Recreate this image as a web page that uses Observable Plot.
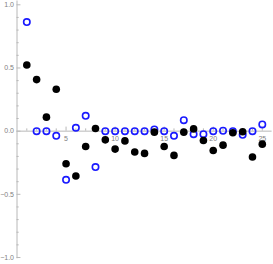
<!DOCTYPE html>
<html>
<head>
<meta charset="utf-8">
<script src="https://cdn.jsdelivr.net/npm/d3@7"></script>
<script src="https://cdn.jsdelivr.net/npm/@observablehq/plot@0.6"></script>
<style>
  html, body { margin: 0; padding: 0; background: #fff; }
  svg { display: block; }
</style>
</head>
<body>
<div id="chart"></div>
<script>
const xs = d3.range(1, 26);
const blackValues = [0.524, 0.408, 0.111, 0.332, -0.258, -0.355, -0.121, 0.021, -0.069, -0.142, -0.077, -0.165,
  -0.176, -0.008, -0.121, -0.192, -0.008, 0.018, -0.074, -0.153, -0.111, -0.013, -0.005, -0.205, -0.103];
const blueValues = [0.863, 0.0, 0.0, -0.037, -0.385, 0.026, 0.121, -0.284, 0.0, 0.0, 0.0, 0.0,
  0.0, 0.013, 0.0, -0.037, 0.087, -0.024, -0.024, 0.0, 0.003, 0.0, -0.029, 0.0, 0.053];
const xMajorTicks = [5, 10, 15, 20, 25];
const xMinorTicks = d3.range(1, 26).filter(d => d % 5 !== 0);
const yMajorTicks = [-1.0, -0.5, 0.0, 0.5, 1.0];
const yMinorTicks = d3.range(-10, 11).map(d => d / 10).filter(d => Math.abs(d * 10) % 5 !== 0);

const black = xs.map((x, i) => ({x, y: blackValues[i]}));
const blue = xs.map((x, i) => ({x, y: blueValues[i]}));

const axisColor = "#b8b8b8";
const labelColor = "#808080";

const chart = Plot.plot({
  width: 273,
  height: 264,
  marginLeft: 16.5,
  marginRight: 1.4,
  marginTop: 4.3,
  marginBottom: 7,
  x: {domain: [0, 26], axis: null},
  y: {domain: [-1, 1], axis: null},
  style: {fontFamily: "Liberation Sans, Arial, sans-serif", fontSize: "7px", background: "#fff"},
  marks: [
    Plot.ruleY([0], {x1: 0, x2: 26, stroke: axisColor, strokeWidth: 1}),
    Plot.ruleX([0], {y1: -1.01, y2: 1.03, stroke: axisColor, strokeWidth: 1}),
    Plot.ruleX(xMajorTicks, {x: d => d, y1: 0, y2: 0.032, stroke: axisColor}),
    Plot.ruleX(xMinorTicks, {x: d => d, y1: 0, y2: 0.018, stroke: axisColor}),
    Plot.ruleY(yMajorTicks, {y: d => d, x1: 0, x2: 0.4, stroke: axisColor}),
    Plot.ruleY(yMinorTicks, {y: d => d, x1: 0, x2: 0.22, stroke: axisColor}),
    Plot.text(xMajorTicks, {x: d => d, y: 0, text: d => String(d), dy: 8, fill: labelColor, fontSize: 7}),
    Plot.text(yMajorTicks, {x: 0, y: d => d, text: d => d < 0 ? "\u2212" + Math.abs(d).toFixed(1) : d.toFixed(1), textAnchor: "end", dx: -3, fill: labelColor, fontSize: 7}),
    Plot.dot(blue, {x: "x", y: "y", r: 3.2, stroke: "#1a1aff", strokeWidth: 1.6, fill: "none"}),
    Plot.dot(black, {x: "x", y: "y", r: 3.8, fill: "#000", stroke: "none"})
  ]
});
document.getElementById("chart").appendChild(chart);
</script>
</body>
</html>
